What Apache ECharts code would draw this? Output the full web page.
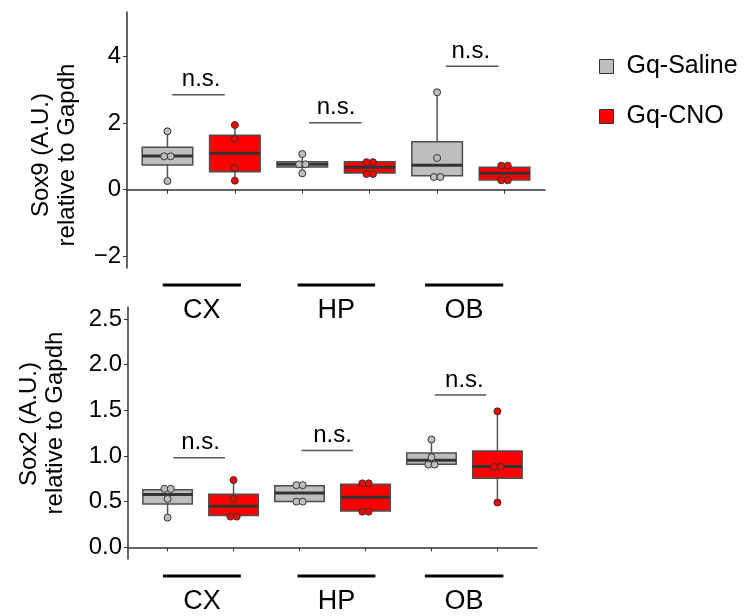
<!DOCTYPE html>
<html>
<head>
<meta charset="utf-8">
<script src="https://cdn.jsdelivr.net/npm/echarts@6/dist/echarts.min.js"></script>
<style>
  html, body { margin: 0; padding: 0; background: #fff; }
  #chart { width: 744px; height: 616px; }
</style>
</head>
<body>
<div id="chart"></div>
<script>
// ---------------- data ----------------
const regions = ['CX', 'HP', 'OB'];
const groupNames = ['Gq-Saline', 'Gq-CNO'];

const sox9Ticks = [-2, 0, 2, 4];
const sox2Ticks = [0, 0.5, 1, 1.5, 2, 2.5];

// box stats per region: [lower whisker, Q1, median, Q3, upper whisker]
const sox9SalineBox = [[0.26, 0.74, 1.01, 1.27, 1.75], [0.49, 0.68, 0.76, 0.84, 1.07], [0.38, 0.42, 0.73, 1.44, 2.92]];
const sox9CnoBox    = [[0.27, 0.54, 1.09, 1.63, 1.94], [0.47, 0.50, 0.67, 0.84, 0.84], [0.28, 0.29, 0.49, 0.67, 0.72]];
const sox2SalineBox = [[0.325, 0.474, 0.577, 0.63, 0.64], [0.50, 0.50, 0.594, 0.675, 0.68], [0.905, 0.908, 0.952, 1.032, 1.18]];
const sox2CnoBox    = [[0.336, 0.347, 0.449, 0.58, 0.736], [0.39, 0.397, 0.547, 0.69, 0.70], [0.49, 0.755, 0.883, 1.054, 1.488]];

// individual points per region
const sox9SalinePts = [[0.26, 1.00, 1.00, 1.75], [0.49, 0.76, 0.76, 1.07], [0.38, 0.38, 0.95, 2.92]];
const sox9CnoPts    = [[0.27, 0.65, 1.52, 1.94], [0.47, 0.47, 0.825, 0.825], [0.28, 0.28, 0.72, 0.72]];
const sox2SalinePts = [[0.325, 0.53, 0.64, 0.64], [0.50, 0.50, 0.68, 0.68], [0.905, 0.905, 0.985, 1.18]];
const sox2CnoPts    = [[0.336, 0.336, 0.53, 0.736], [0.39, 0.39, 0.70, 0.70], [0.49, 0.88, 0.88, 1.488]];

// significance brackets: [x start, x end, y]
const sox9Brackets = [[1.07, 1.85, 2.85], [3.10, 3.88, 2.01], [5.13, 5.91, 3.70]];
const sox2Brackets = [[1.09, 1.87, 0.98], [3.03, 3.81, 1.06], [5.05, 5.83, 1.667]];
const bracketLabel = 'n.s.';

// region underline spans in x-axis units
const sox9Spans = [[0.93, 2.09], [2.93, 4.08], [4.82, 5.98]];
const sox2Spans = [[0.93, 2.11], [2.97, 4.15], [4.90, 6.09]];

// ---------------- style ----------------
const FONT = '"Liberation Sans", Arial, Helvetica, sans-serif';
const GRAY = '#bebebe';
const RED = '#ff0000';
const BOX_W = 0.75;
const JIT = 0.048;

function pos(regionIdx, groupIdx) { return regionIdx * 2 + 1 + groupIdx; }

function boxData(box, groupIdx) {
  return box.map((b, i) => [pos(i, groupIdx)].concat(b));
}
function pointData(pts, groupIdx) {
  const out = [];
  pts.forEach((vals, i) => {
    const x0 = pos(i, groupIdx);
    vals.forEach((v, k) => {
      const same = vals.filter(u => u === v).length;
      let off = 0;
      if (same > 1) {
        const first = vals.indexOf(v);
        off = (k === first) ? -JIT : JIT;
      }
      out.push([x0 + off, v]);
    });
  });
  return out;
}

function renderBox(params, api) {
  const x = api.value(0);
  const half = api.size([BOX_W, 0])[0] / 2;
  const lo = api.coord([x, api.value(1)]);
  const q1 = api.coord([x, api.value(2)]);
  const md = api.coord([x, api.value(3)]);
  const q3 = api.coord([x, api.value(4)]);
  const hi = api.coord([x, api.value(5)]);
  const fill = api.visual('color');
  return {
    type: 'group',
    children: [
      { type: 'line', shape: { x1: lo[0], y1: lo[1], x2: q1[0], y2: q1[1] }, style: { stroke: '#555', lineWidth: 1.5 } },
      { type: 'line', shape: { x1: q3[0], y1: q3[1], x2: hi[0], y2: hi[1] }, style: { stroke: '#555', lineWidth: 1.5 } },
      { type: 'rect', shape: { x: q1[0] - half, y: q3[1], width: 2 * half, height: q1[1] - q3[1] }, style: { fill: fill, stroke: '#4d4d4d', lineWidth: 1.5 } },
      { type: 'line', shape: { x1: md[0] - half, y1: md[1], x2: md[0] + half, y2: md[1] }, style: { stroke: '#333', lineWidth: 3 } }
    ]
  };
}

function renderBracket(params, api) {
  const a = api.coord([api.value(0), api.value(2)]);
  const b = api.coord([api.value(1), api.value(2)]);
  const c = api.coord([Math.round((api.value(0) + api.value(1)) / 2 - 0.46) + 0.5, api.value(2)]);
  return {
    type: 'group',
    children: [
      { type: 'line', shape: { x1: a[0], y1: a[1], x2: b[0], y2: b[1] }, style: { stroke: '#555', lineWidth: 1.5 } },
      { type: 'text', x: c[0], y: a[1] - 3, style: { text: bracketLabel, fill: '#000', fontSize: 24, fontFamily: FONT, align: 'center', verticalAlign: 'bottom' } }
    ]
  };
}

function makeRenderSpan(yMin) {
  return function (params, api) {
    const a = api.coord([api.value(0), yMin]);
    const b = api.coord([api.value(1), yMin]);
    const y = a[1] + 17;
    return {
      type: 'group',
      children: [
        { type: 'line', shape: { x1: a[0], y1: y, x2: b[0], y2: y }, style: { stroke: '#000', lineWidth: 3 } },
        { type: 'text', x: (a[0] + b[0]) / 2, y: y + 26, style: { text: regions[params.dataIndex], fill: '#000', fontSize: 27, fontFamily: FONT, align: 'center', verticalAlign: 'middle' } }
      ]
    };
  };
}

const Y9 = [-2.35, 5.33];
const Y2 = [-0.128, 2.63];

function xAxis(gridIndex) {
  return {
    type: 'value', gridIndex: gridIndex, min: 0.4, max: 6.6,
    axisLine: { lineStyle: { color: '#333', width: 1.5 } },
    axisTick: { show: true, length: 4, lineStyle: { color: '#333', width: 1 }, customValues: [1, 2, 3, 4, 5, 6] },
    axisLabel: { show: false },
    splitLine: { show: false }
  };
}
function yAxis(gridIndex, range, ticks, fmt) {
  return {
    type: 'value', gridIndex: gridIndex, min: range[0], max: range[1],
    axisLine: { show: true, lineStyle: { color: '#333', width: 1.5 } },
    axisTick: { show: true, length: 4, lineStyle: { color: '#333', width: 1 }, customValues: ticks },
    axisLabel: { customValues: ticks, fontSize: 24, fontFamily: FONT, color: '#000', margin: 6, formatter: fmt },
    splitLine: { show: false }
  };
}

const fmt9 = v => (v < 0 ? '\u2212' + Math.abs(v) : String(v));
const fmt2 = v => v.toFixed(1);

function panelSeries(axisIdx, salBox, cnoBox, salPts, cnoPts, brackets, spans, yMin) {
  return [
    { type: 'custom', name: groupNames[0], xAxisIndex: axisIdx, yAxisIndex: axisIdx, renderItem: renderBox, itemStyle: { color: GRAY }, data: boxData(salBox, 0), encode: { x: 0, y: [1, 2, 3, 4, 5] }, z: 2, silent: true },
    { type: 'custom', name: groupNames[1], xAxisIndex: axisIdx, yAxisIndex: axisIdx, renderItem: renderBox, itemStyle: { color: RED }, data: boxData(cnoBox, 1), encode: { x: 0, y: [1, 2, 3, 4, 5] }, z: 2, silent: true },
    { type: 'scatter', name: groupNames[0], xAxisIndex: axisIdx, yAxisIndex: axisIdx, symbol: 'circle', symbolSize: 7, itemStyle: { color: GRAY, borderColor: '#333', borderWidth: 1, opacity: 1 }, data: pointData(salPts, 0), z: 5, silent: true },
    { type: 'scatter', name: groupNames[1], xAxisIndex: axisIdx, yAxisIndex: axisIdx, symbol: 'circle', symbolSize: 7, itemStyle: { color: RED, borderColor: '#333', borderWidth: 1, opacity: 1 }, data: pointData(cnoPts, 1), z: 5, silent: true },
    { type: 'custom', xAxisIndex: axisIdx, yAxisIndex: axisIdx, renderItem: renderBracket, data: brackets, encode: { x: [0, 1], y: 2 }, z: 3, silent: true, clip: false },
    { type: 'custom', xAxisIndex: axisIdx, yAxisIndex: axisIdx, renderItem: makeRenderSpan(yMin), data: spans, encode: { x: [0, 1] }, z: 3, silent: true, clip: false }
  ];
}

const chart = echarts.init(document.getElementById('chart'));
chart.setOption({
  animation: false,
  backgroundColor: '#fff',
  textStyle: { fontFamily: FONT },
  grid: [
    { left: 127, top: 12, width: 418, height: 256 },
    { left: 128, top: 307, width: 409, height: 252 }
  ],
  xAxis: [xAxis(0), xAxis(1)],
  yAxis: [yAxis(0, Y9, sox9Ticks, fmt9), yAxis(1, Y2, sox2Ticks, fmt2)],
  legend: {
    orient: 'vertical', left: 599, top: 54, padding: 0, itemWidth: 14, itemHeight: 14, itemGap: 25,
    selectedMode: false,
    textStyle: { fontSize: 25, fontFamily: FONT, color: '#000', padding: [0, 0, 0, 8] },
    data: [
      { name: groupNames[0], icon: 'rect', itemStyle: { color: GRAY, borderColor: '#333', borderWidth: 1 } },
      { name: groupNames[1], icon: 'rect', itemStyle: { color: RED, borderColor: '#333', borderWidth: 1 } }
    ]
  },
  graphic: [
    { type: 'text', x: 41, y: 155, rotation: Math.PI / 2, style: { text: 'Sox9 (A.U.)', fontSize: 24, fontFamily: FONT, fill: '#000', align: 'center', verticalAlign: 'middle' } },
    { type: 'text', x: 67, y: 155, rotation: Math.PI / 2, style: { text: 'relative to Gapdh', fontSize: 24, fontFamily: FONT, fill: '#000', align: 'center', verticalAlign: 'middle' } },
    { type: 'text', x: 29, y: 424, rotation: Math.PI / 2, style: { text: 'Sox2 (A.U.)', fontSize: 24, fontFamily: FONT, fill: '#000', align: 'center', verticalAlign: 'middle' } },
    { type: 'text', x: 55, y: 423, rotation: Math.PI / 2, style: { text: 'relative to Gapdh', fontSize: 24, fontFamily: FONT, fill: '#000', align: 'center', verticalAlign: 'middle' } }
  ],
  series: [].concat(
    panelSeries(0, sox9SalineBox, sox9CnoBox, sox9SalinePts, sox9CnoPts, sox9Brackets, sox9Spans, Y9[0]),
    panelSeries(1, sox2SalineBox, sox2CnoBox, sox2SalinePts, sox2CnoPts, sox2Brackets, sox2Spans, Y2[0])
  )
});
</script>
</body>
</html>
